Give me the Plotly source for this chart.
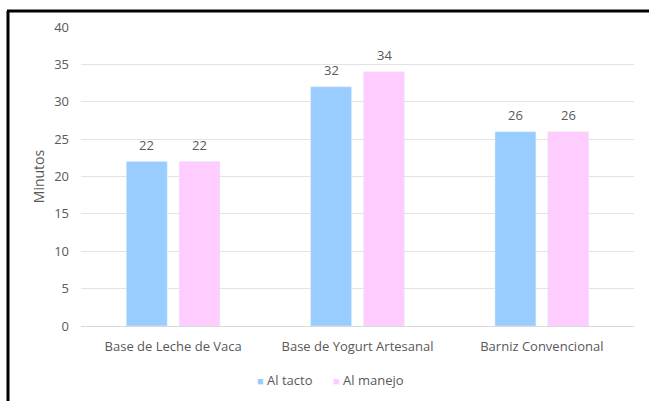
import plotly.graph_objects as go

categories = ["Base de Leche de Vaca", "Base de Yogurt Artesanal", "Barniz Convencional"]
al_tacto = [22, 32, 26]
al_manejo = [22, 34, 26]
y_ticks = [0, 5, 10, 15, 20, 25, 30, 35, 40]

W, H = 649, 401
ML, MR, MT, MB = 81, 15, 27, 75
text_color = "#595959"
blue, pink = "#99CCFF", "#FFCCFF"
font_family = "Open Sans, Liberation Sans, sans-serif"

fig = go.Figure()
fig.add_trace(go.Bar(name="Al tacto", x=categories, y=al_tacto,
                     marker_color=blue, showlegend=False))
fig.add_trace(go.Bar(name="Al manejo", x=categories, y=al_manejo,
                     marker_color=pink, showlegend=False))

# value labels above each bar
slot = 53
for vals, shift in [(al_tacto, -slot / 2), (al_manejo, slot / 2)]:
    for c, v in zip(categories, vals):
        fig.add_annotation(x=c, y=v, text=str(v), showarrow=False,
                           xshift=shift, yshift=17, yanchor="middle",
                           font=dict(size=13, color=text_color))

pw = W - ML - MR
ph = H - MT - MB

# legend: small coloured square followed by the series name
legend_items = [("Al tacto", blue, 257), ("Al manejo", pink, 333)]
for name, col, px in legend_items:
    fig.add_annotation(xref="paper", yref="paper",
                       x=(px - 2 - ML) / pw, y=-(380 - (H - MB)) / ph,
                       xanchor="left", yanchor="middle", showarrow=False,
                       text=f"<span style='color:{col};font-size:11px'>■</span> {name}",
                       font=dict(size=13, color=text_color))

# outer frame: thick black line along the top and the left edge
fig.add_shape(type="line", xref="paper", yref="paper",
              x0=(7 - ML) / pw, x1=(W + 5 - ML) / pw,
              y0=(H - MB - 11) / ph, y1=(H - MB - 11) / ph,
              line=dict(color="black", width=3))
fig.add_shape(type="line", xref="paper", yref="paper",
              x0=(8 - ML) / pw, x1=(8 - ML) / pw,
              y0=(H - MB - 11) / ph, y1=(-MB - 5) / ph,
              line=dict(color="black", width=3))

fig.update_layout(
    width=W, height=H,
    margin=dict(l=ML, r=MR, t=MT, b=MB, autoexpand=False),
    paper_bgcolor="white", plot_bgcolor="white",
    barmode="group", bargap=0.427, bargroupgap=0.226,
    showlegend=False,
    font=dict(family=font_family, size=13, color=text_color),
    xaxis=dict(showgrid=False, showline=False, ticks="",
               ticklabelstandoff=11,
               tickfont=dict(size=13, color=text_color)),
    yaxis=dict(range=[0, 40], tickvals=y_ticks, showgrid=True,
               gridcolor="#E3E3E3", gridwidth=1, zeroline=True,
               zerolinecolor="#D9D9D9", zerolinewidth=1,
               showline=False, ticks="", ticklabelstandoff=11,
               title=dict(text="Minutos", standoff=6,
                          font=dict(size=14, color=text_color)),
               tickfont=dict(size=13, color=text_color)),
)

fig.write_html("out.html")
